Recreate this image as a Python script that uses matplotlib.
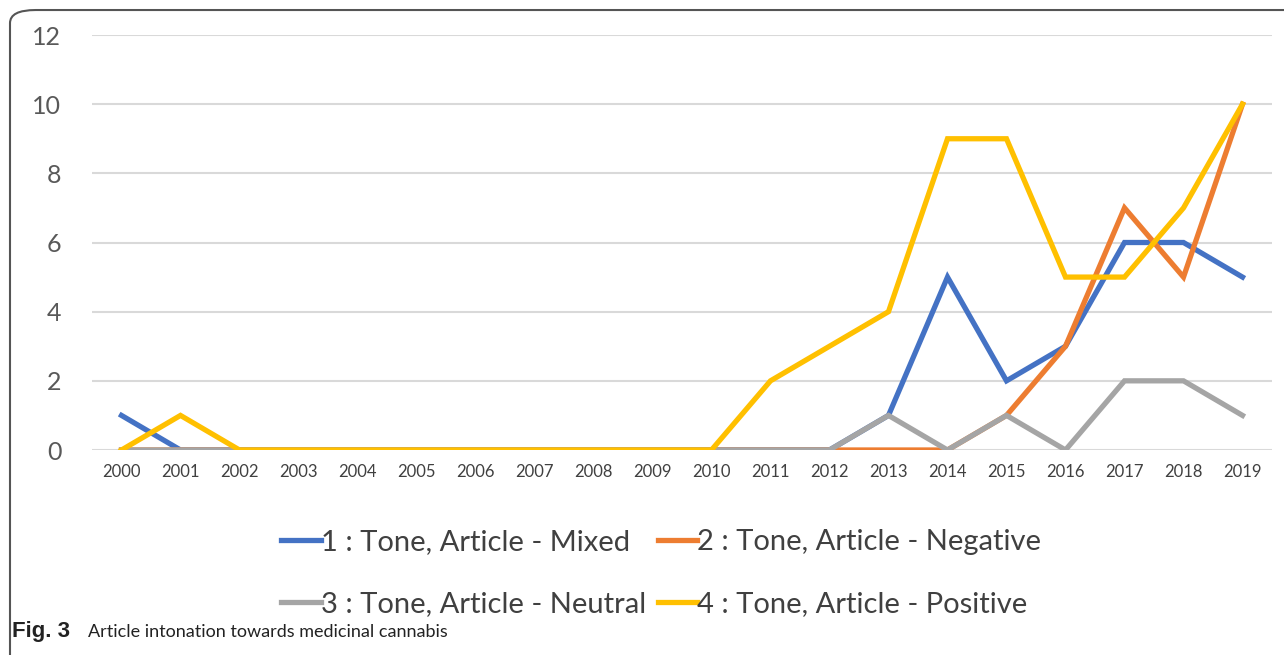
import numpy as np
import matplotlib
matplotlib.use("Agg")
import matplotlib.pyplot as plt
from matplotlib.patches import FancyBboxPatch

# data
years = [str(y) for y in range(2000, 2020)]
mixed = [1, 0, 0, 0, 0, 0, 0, 0, 0, 0, 0, 0, 0, 1, 5, 2, 3, 6, 6, 5]
negative = [0, 0, 0, 0, 0, 0, 0, 0, 0, 0, 0, 0, 0, 0, 0, 1, 3, 7, 5, 10]
neutral = [0, 0, 0, 0, 0, 0, 0, 0, 0, 0, 0, 0, 0, 1, 0, 1, 0, 2, 2, 1]
positive = [0, 1, 0, 0, 0, 0, 0, 0, 0, 0, 0, 2, 3, 4, 9, 9, 5, 5, 7, 10]
labels = ["1 : Tone, Article - Mixed", "2 : Tone, Article - Negative",
          "3 : Tone, Article - Neutral", "4 : Tone, Article - Positive"]
colors = ["#4472C4", "#ED7D31", "#A5A5A5", "#FFC000"]

plt.rcParams['font.family'] = ['Lato', 'DejaVu Sans']

fig = plt.figure(figsize=(12.84, 6.55), dpi=100)
ax = fig.add_axes([92 / 1284, 1 - 450 / 655, (1272 - 92) / 1284, (450 - 35) / 655])

x = np.arange(len(years))
lines = []
for series, col, lab in zip([mixed, negative, neutral, positive], colors, labels):
    ln, = ax.plot(x, series, color=col, lw=3.8, label=lab, solid_joinstyle='miter')
    lines.append(ln)

ax.set_xlim(-0.5, len(years) - 0.5)
ax.set_ylim(0, 12)
ax.set_yticks(range(0, 13, 2))
ax.set_xticks(x)
ax.set_xticklabels(years, fontsize=12, color="#404040")
ax.tick_params(axis='y', labelsize=18, labelcolor="#595959", pad=22)
ax.tick_params(axis='x', pad=10)
ax.tick_params(length=0)
ax.grid(axis='y', color="#D9D9D9", lw=1.5)
ax.set_axisbelow(True)
for s in ax.spines.values():
    s.set_visible(False)

# legend filled column by column, so reorder to get rows 1-2 / 3-4
order = [0, 2, 1, 3]
leg = fig.legend(handles=[lines[i] for i in order], loc='center',
                 bbox_to_anchor=(0.515, 0.125),
                 ncol=2, frameon=False, fontsize=21, handlelength=1.35,
                 handletextpad=0.0, columnspacing=0.4, labelspacing=1.25)
for t in leg.get_texts():
    t.set_color("#404040")

# outer frame, partly cut off at the right and bottom
frame = FancyBboxPatch((10 / 1284, -0.03), 1.1, 0.9847 + 0.03,
                       boxstyle="round,pad=0,rounding_size=0.02",
                       transform=fig.transFigure, fill=False,
                       edgecolor="#555555", lw=1.5)
fig.patches.append(frame)

fig.text(12 / 1284, 1 - 632 / 655, "Fig. 3", fontsize=16, fontweight='bold',
         family=['Liberation Sans', 'DejaVu Sans'], va='center', color="#222222")
fig.text(88 / 1284, 1 - 632 / 655, "Article intonation towards medicinal cannabis",
         fontsize=13, va='center', color="#222222")

fig.savefig("out.png", dpi=100)
